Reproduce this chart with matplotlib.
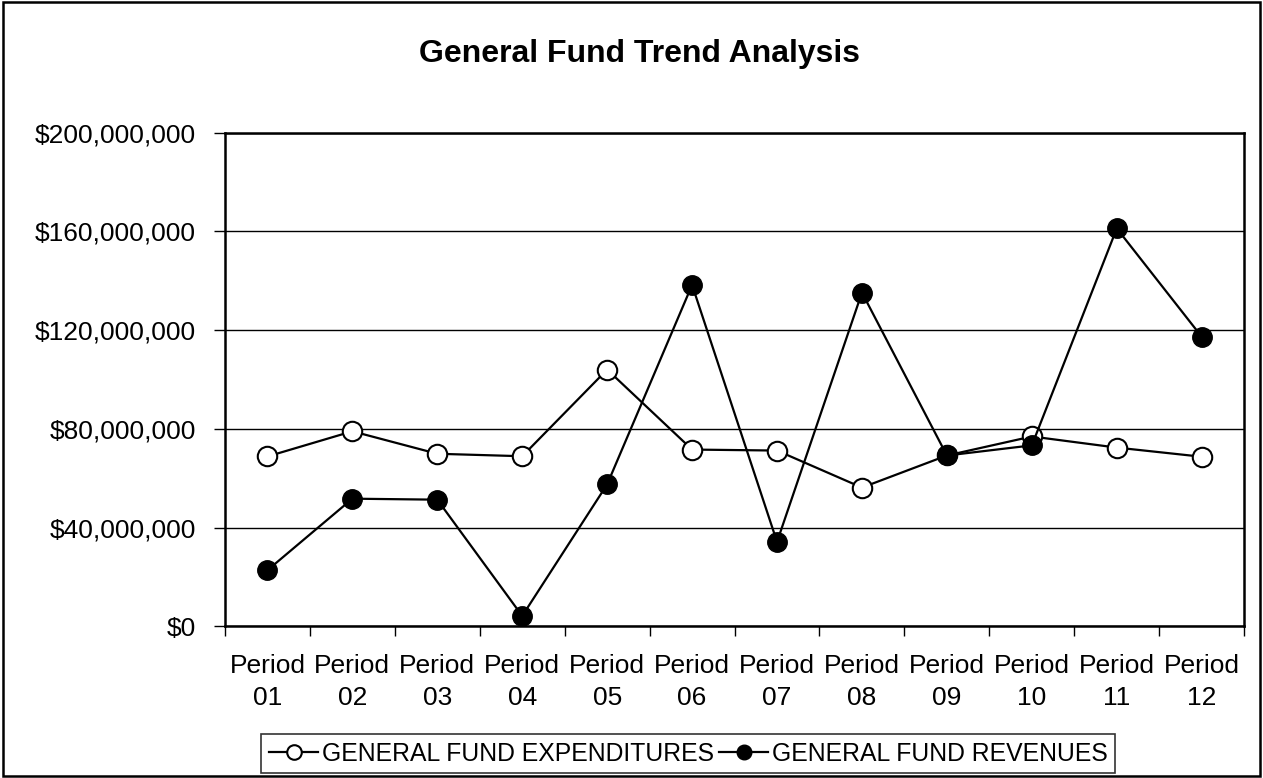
import matplotlib.pyplot as plt
from matplotlib.patches import Rectangle
from matplotlib.ticker import FuncFormatter

plt.rcParams['font.family'] = ['Liberation Sans', 'DejaVu Sans']

periods = ["Period\n01", "Period\n02", "Period\n03", "Period\n04", "Period\n05", "Period\n06",
           "Period\n07", "Period\n08", "Period\n09", "Period\n10", "Period\n11", "Period\n12"]
expenditures = [68.8, 79.0, 69.9, 68.9, 104.0, 71.6, 71.2, 56.2, 69.2, 76.9, 72.4, 68.7]
revenues = [22.7, 51.7, 51.3, 4.2, 57.5, 138.3, 34.2, 135.2, 69.2, 73.3, 161.2, 117.3]
expenditures = [v * 1e6 for v in expenditures]
revenues = [v * 1e6 for v in revenues]

fig = plt.figure(figsize=(12.63, 7.78), dpi=100)
ax = fig.add_axes([0.1781, 0.195, 0.807, 0.6345])

# outer chart border
fig.patches.append(Rectangle((0.002, 0.002), 0.996, 0.995, transform=fig.transFigure,
                             fill=False, edgecolor="black", linewidth=1.8))

x = [i + 0.5 for i in range(len(periods))]
ax.plot(x, expenditures, color="black", linewidth=1.6, marker="o", markersize=14,
        markerfacecolor="white", markeredgecolor="black", markeredgewidth=1.5,
        label="GENERAL FUND EXPENDITURES", zorder=3)
ax.plot(x, revenues, color="black", linewidth=1.6, marker="o", markersize=14,
        markerfacecolor="black", markeredgecolor="black",
        label="GENERAL FUND REVENUES", zorder=4)

ax.set_xlim(0, 12)
ax.set_ylim(0, 200e6)
ax.set_yticks([0, 40e6, 80e6, 120e6, 160e6, 200e6])
ax.yaxis.set_major_formatter(FuncFormatter(lambda v, p: "${:,.0f}".format(v)))
ax.set_xticks(range(13))
ax.set_xticklabels([])
ax.set_xticks(x, minor=True)
ax.set_xticklabels(periods, minor=True, fontsize=19, linespacing=1.42)
ax.tick_params(axis="x", which="minor", length=0, pad=20)
ax.tick_params(axis="x", which="major", length=7, width=1, direction="out")
ax.tick_params(axis="y", length=8, width=1, direction="out", labelsize=19, pad=13)
ax.yaxis.grid(True, color="black", linewidth=1)
ax.set_axisbelow(True)
for s in ax.spines.values():
    s.set_linewidth(1.8)

fig.text(0.506, 0.931, "General Fund Trend Analysis", ha="center", va="center",
         fontsize=23, fontweight="bold")

leg = ax.legend(loc="center", ncol=2, fontsize=17.8, frameon=True, fancybox=False,
                markerscale=0.75, handlelength=2.0, handletextpad=0.15, columnspacing=0.2,
                borderpad=0.3, borderaxespad=0)
leg.set_bbox_to_anchor((0.545, 0.031), transform=fig.transFigure)
leg.get_frame().set_edgecolor("black")
leg.get_frame().set_linewidth(1.2)

fig.savefig("out.png", dpi=100)
